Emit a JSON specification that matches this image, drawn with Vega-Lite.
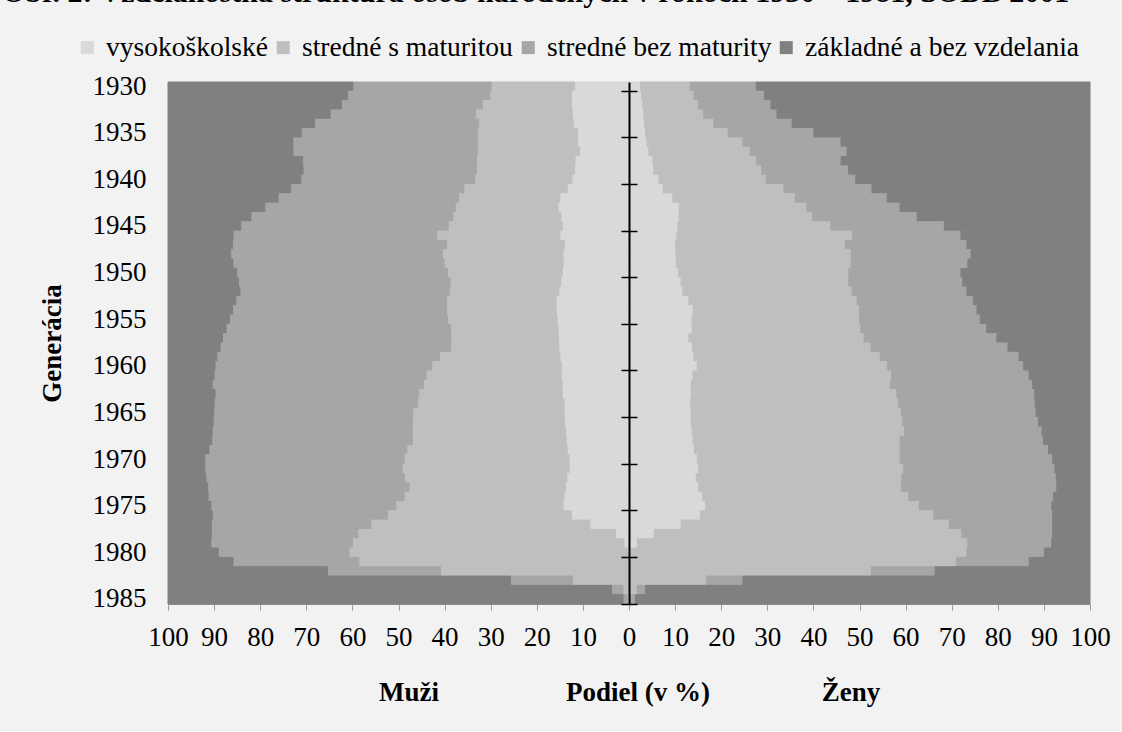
{
  "$schema": "https://vega.github.io/schema/vega-lite/v6.json",
  "background": "#f2f2f2",
  "padding": {"left": 2, "top": -23, "right": 13, "bottom": 26},
  "title": {
    "text": "Obr. 2: Vzdelanostná štruktúra osôb narodených v rokoch 1930 – 1981, SODB 2001",
    "font": "Liberation Serif",
    "fontSize": 30,
    "fontWeight": "bold",
    "color": "black",
    "anchor": "start",
    "baseline": "top",
    "dx": -36,
    "offset": 26
  },
  "datasets": {
    "muzi": [
      {"rok":1930,"vysokoškolské":11.8,"stredné s maturitou":18.1,"stredné bez maturity":30.0,"základné a bez vzdelania":40.1},
      {"rok":1931,"vysokoškolské":12.5,"stredné s maturitou":17.7,"stredné bez maturity":30.9,"základné a bez vzdelania":38.9},
      {"rok":1932,"vysokoškolské":12.5,"stredné s maturitou":19.3,"stredné bez maturity":30.6,"základné a bez vzdelania":37.6},
      {"rok":1933,"vysokoškolské":12.3,"stredné s maturitou":21.0,"stredné bez maturity":31.5,"základné a bez vzdelania":35.2},
      {"rok":1934,"vysokoškolské":12.0,"stredné s maturitou":20.6,"stredné bez maturity":35.6,"základné a bez vzdelania":31.8},
      {"rok":1935,"vysokoškolské":11.2,"stredné s maturitou":21.7,"stredné bez maturity":38.2,"základné a bez vzdelania":28.9},
      {"rok":1936,"vysokoškolské":11.2,"stredné s maturitou":21.7,"stredné bez maturity":40.0,"základné a bez vzdelania":27.1},
      {"rok":1937,"vysokoškolské":10.7,"stredné s maturitou":22.2,"stredné bez maturity":40.0,"základné a bez vzdelania":27.1},
      {"rok":1938,"vysokoškolské":11.7,"stredné s maturitou":21.4,"stredné bez maturity":37.7,"základné a bez vzdelania":29.2},
      {"rok":1939,"vysokoškolské":11.8,"stredné s maturitou":21.3,"stredné bez maturity":37.6,"základné a bez vzdelania":29.3},
      {"rok":1940,"vysokoškolské":12.4,"stredné s maturitou":21.1,"stredné bez maturity":37.7,"základné a bez vzdelania":28.8},
      {"rok":1941,"vysokoškolské":13.4,"stredné s maturitou":22.4,"stredné bez maturity":37.6,"základné a bez vzdelania":26.6},
      {"rok":1942,"vysokoškolské":15.0,"stredné s maturitou":22.0,"stredné bez maturity":39.1,"základné a bez vzdelania":23.9},
      {"rok":1943,"vysokoškolské":15.4,"stredné s maturitou":22.3,"stredné bez maturity":41.3,"základné a bez vzdelania":21.0},
      {"rok":1944,"vysokoškolské":14.8,"stredné s maturitou":23.4,"stredné bez maturity":43.8,"základné a bez vzdelania":18.0},
      {"rok":1945,"vysokoškolské":14.5,"stredné s maturitou":24.7,"stredné bez maturity":45.0,"základné a bez vzdelania":15.8},
      {"rok":1946,"vysokoškolské":15.0,"stredné s maturitou":26.7,"stredné bez maturity":44.2,"základné a bez vzdelania":14.1},
      {"rok":1947,"vysokoškolské":14.0,"stredné s maturitou":25.6,"stredné bez maturity":46.4,"základné a bez vzdelania":14.0},
      {"rok":1948,"vysokoškolské":14.3,"stredné s maturitou":26.2,"stredné bez maturity":45.9,"základné a bez vzdelania":13.6},
      {"rok":1949,"vysokoškolské":14.3,"stredné s maturitou":25.8,"stredné bez maturity":45.8,"základné a bez vzdelania":14.1},
      {"rok":1950,"vysokoškolské":14.5,"stredné s maturitou":24.9,"stredné bez maturity":45.7,"základné a bez vzdelania":14.9},
      {"rok":1951,"vysokoškolské":14.8,"stredné s maturitou":24.0,"stredné bez maturity":45.9,"základné a bez vzdelania":15.3},
      {"rok":1952,"vysokoškolské":15.2,"stredné s maturitou":23.8,"stredné bez maturity":45.4,"základné a bez vzdelania":15.6},
      {"rok":1953,"vysokoškolské":15.8,"stredné s maturitou":23.8,"stredné bez maturity":45.7,"základné a bez vzdelania":14.7},
      {"rok":1954,"vysokoškolské":15.8,"stredné s maturitou":23.8,"stredné bez maturity":46.4,"základné a bez vzdelania":14.0},
      {"rok":1955,"vysokoškolské":15.6,"stredné s maturitou":23.8,"stredné bez maturity":47.3,"základné a bez vzdelania":13.3},
      {"rok":1956,"vysokoškolské":15.4,"stredné s maturitou":23.3,"stredné bez maturity":48.7,"základné a bez vzdelania":12.6},
      {"rok":1957,"vysokoškolské":15.3,"stredné s maturitou":23.3,"stredné bez maturity":49.6,"základné a bez vzdelania":11.8},
      {"rok":1958,"vysokoškolské":15.2,"stredné s maturitou":23.5,"stredné bez maturity":50.0,"základné a bez vzdelania":11.3},
      {"rok":1959,"vysokoškolské":15.0,"stredné s maturitou":26.1,"stredné bez maturity":48.3,"základné a bez vzdelania":10.6},
      {"rok":1960,"vysokoškolské":14.7,"stredné s maturitou":28.1,"stredné bez maturity":47.0,"základné a bez vzdelania":10.2},
      {"rok":1961,"vysokoškolské":14.7,"stredné s maturitou":29.3,"stredné bez maturity":46.0,"základné a bez vzdelania":10.0},
      {"rok":1962,"vysokoškolské":14.5,"stredné s maturitou":30.1,"stredné bez maturity":45.8,"základné a bez vzdelania":9.6},
      {"rok":1963,"vysokoškolské":14.5,"stredné s maturitou":31.1,"stredné bez maturity":44.2,"základné a bez vzdelania":10.2},
      {"rok":1964,"vysokoškolské":14.1,"stredné s maturitou":31.8,"stredné bez maturity":44.1,"základné a bez vzdelania":10.0},
      {"rok":1965,"vysokoškolské":14.1,"stredné s maturitou":32.8,"stredné bez maturity":43.2,"základné a bez vzdelania":9.9},
      {"rok":1966,"vysokoškolské":14.0,"stredné s maturitou":33.0,"stredné bez maturity":43.2,"základné a bez vzdelania":9.8},
      {"rok":1967,"vysokoškolské":13.8,"stredné s maturitou":33.2,"stredné bez maturity":43.4,"základné a bez vzdelania":9.6},
      {"rok":1968,"vysokoškolské":13.6,"stredné s maturitou":33.4,"stredné bez maturity":43.5,"základné a bez vzdelania":9.5},
      {"rok":1969,"vysokoškolské":13.4,"stredné s maturitou":34.8,"stredné bez maturity":42.9,"základné a bez vzdelania":8.9},
      {"rok":1970,"vysokoškolské":13.0,"stredné s maturitou":35.8,"stredné bez maturity":43.2,"základné a bez vzdelania":8.0},
      {"rok":1971,"vysokoškolské":13.0,"stredné s maturitou":36.2,"stredné bez maturity":42.8,"základné a bez vzdelania":8.0},
      {"rok":1972,"vysokoškolské":13.5,"stredné s maturitou":35.2,"stredné bez maturity":43.1,"základné a bez vzdelania":8.2},
      {"rok":1973,"vysokoškolské":13.8,"stredné s maturitou":33.9,"stredné bez maturity":43.7,"základné a bez vzdelania":8.6},
      {"rok":1974,"vysokoškolské":14.1,"stredné s maturitou":34.7,"stredné bez maturity":42.5,"základné a bez vzdelania":8.7},
      {"rok":1975,"vysokoškolské":14.3,"stredné s maturitou":36.3,"stredné bez maturity":40.1,"základné a bez vzdelania":9.3},
      {"rok":1976,"vysokoškolské":12.5,"stredné s maturitou":39.9,"stredné bez maturity":38.0,"základné a bez vzdelania":9.6},
      {"rok":1977,"vysokoškolské":8.5,"stredné s maturitou":47.5,"stredné bez maturity":34.6,"základné a bez vzdelania":9.4},
      {"rok":1978,"vysokoškolské":2.9,"stredné s maturitou":55.9,"stredné bez maturity":31.8,"základné a bez vzdelania":9.4},
      {"rok":1979,"vysokoškolské":1.1,"stredné s maturitou":58.9,"stredné bez maturity":30.7,"základné a bez vzdelania":9.3},
      {"rok":1980,"vysokoškolské":0.3,"stredné s maturitou":60.4,"stredné bez maturity":28.4,"základné a bez vzdelania":10.9},
      {"rok":1981,"vysokoškolské":0.0,"stredné s maturitou":58.6,"stredné bez maturity":27.3,"základné a bez vzdelania":14.1},
      {"rok":1982,"vysokoškolské":0.0,"stredné s maturitou":40.9,"stredné bez maturity":24.5,"základné a bez vzdelania":34.6},
      {"rok":1983,"vysokoškolské":0.0,"stredné s maturitou":12.3,"stredné bez maturity":13.4,"základné a bez vzdelania":74.3},
      {"rok":1984,"vysokoškolské":0.0,"stredné s maturitou":1.3,"stredné bez maturity":2.5,"základné a bez vzdelania":96.2},
      {"rok":1985,"vysokoškolské":0.0,"stredné s maturitou":0.4,"stredné bez maturity":0.9,"základné a bez vzdelania":98.7}
    ],
    "zeny": [
      {"rok":1930,"vysokoškolské":2.5,"stredné s maturitou":10.8,"stredné bez maturity":14.3,"základné a bez vzdelania":72.4},
      {"rok":1931,"vysokoškolské":2.7,"stredné s maturitou":11.4,"stredné bez maturity":15.3,"základné a bez vzdelania":70.6},
      {"rok":1932,"vysokoškolské":3.0,"stredné s maturitou":12.1,"stredné bez maturity":15.7,"základné a bez vzdelania":69.2},
      {"rok":1933,"vysokoškolské":3.2,"stredné s maturitou":13.0,"stredné bez maturity":15.9,"základné a bez vzdelania":67.9},
      {"rok":1934,"vysokoškolské":3.4,"stredné s maturitou":15.0,"stredné bez maturity":17.0,"základné a bez vzdelania":64.6},
      {"rok":1935,"vysokoškolské":3.6,"stredné s maturitou":17.9,"stredné bez maturity":18.6,"základné a bez vzdelania":59.9},
      {"rok":1936,"vysokoškolské":3.9,"stredné s maturitou":20.8,"stredné bez maturity":21.3,"základné a bez vzdelania":54.0},
      {"rok":1937,"vysokoškolské":4.3,"stredné s maturitou":22.0,"stredné bez maturity":21.0,"základné a bez vzdelania":52.7},
      {"rok":1938,"vysokoškolské":5.2,"stredné s maturitou":22.4,"stredné bez maturity":18.4,"základné a bez vzdelania":54.0},
      {"rok":1939,"vysokoškolské":5.4,"stredné s maturitou":23.4,"stredné bez maturity":18.8,"základné a bez vzdelania":52.4},
      {"rok":1940,"vysokoškolské":6.5,"stredné s maturitou":23.3,"stredné bez maturity":19.4,"základné a bez vzdelania":50.8},
      {"rok":1941,"vysokoškolské":7.4,"stredné s maturitou":26.2,"stredné bez maturity":19.1,"základné a bez vzdelania":47.3},
      {"rok":1942,"vysokoškolské":9.5,"stredné s maturitou":26.6,"stredné bez maturity":19.9,"základné a bez vzdelania":44.0},
      {"rok":1943,"vysokoškolské":10.9,"stredné s maturitou":27.7,"stredné bez maturity":20.2,"základné a bez vzdelania":41.2},
      {"rok":1944,"vysokoškolské":10.9,"stredné s maturitou":28.9,"stredné bez maturity":22.7,"základné a bez vzdelania":37.5},
      {"rok":1945,"vysokoškolské":10.6,"stredné s maturitou":33.2,"stredné bez maturity":24.6,"základné a bez vzdelania":31.6},
      {"rok":1946,"vysokoškolské":10.4,"stredné s maturitou":38.1,"stredné bez maturity":23.5,"základné a bez vzdelania":28.0},
      {"rok":1947,"vysokoškolské":10.1,"stredné s maturitou":36.8,"stredné bez maturity":26.4,"základné a bez vzdelania":26.7},
      {"rok":1948,"vysokoškolské":10.2,"stredné s maturitou":38.0,"stredné bez maturity":26.0,"základné a bez vzdelania":25.8},
      {"rok":1949,"vysokoškolské":10.3,"stredné s maturitou":37.9,"stredné bez maturity":25.3,"základné a bez vzdelania":26.5},
      {"rok":1950,"vysokoškolské":10.8,"stredné s maturitou":36.9,"stredné bez maturity":24.3,"základné a bez vzdelania":28.0},
      {"rok":1951,"vysokoškolské":11.3,"stredné s maturitou":36.4,"stredné bez maturity":24.7,"základné a bez vzdelania":27.6},
      {"rok":1952,"vysokoškolské":11.7,"stredné s maturitou":36.7,"stredné bez maturity":24.9,"základné a bez vzdelania":26.7},
      {"rok":1953,"vysokoškolské":13.0,"stredné s maturitou":36.5,"stredné bez maturity":25.2,"základné a bez vzdelania":25.3},
      {"rok":1954,"vysokoškolské":13.9,"stredné s maturitou":36.1,"stredné bez maturity":25.5,"základné a bez vzdelania":24.5},
      {"rok":1955,"vysokoškolské":13.7,"stredné s maturitou":36.3,"stredné bez maturity":26.2,"základné a bez vzdelania":23.8},
      {"rok":1956,"vysokoškolské":13.7,"stredné s maturitou":36.6,"stredné bez maturity":27.3,"základné a bez vzdelania":22.4},
      {"rok":1957,"vysokoškolské":13.0,"stredné s maturitou":38.0,"stredné bez maturity":28.8,"základné a bez vzdelania":20.2},
      {"rok":1958,"vysokoškolské":13.8,"stredné s maturitou":38.7,"stredné bez maturity":29.7,"základné a bez vzdelania":17.8},
      {"rok":1959,"vysokoškolské":14.1,"stredné s maturitou":40.4,"stredné bez maturity":30.1,"základné a bez vzdelania":15.4},
      {"rok":1960,"vysokoškolské":14.8,"stredné s maturitou":41.2,"stredné bez maturity":29.6,"základné a bez vzdelania":14.4},
      {"rok":1961,"vysokoškolské":13.9,"stredné s maturitou":43.1,"stredné bez maturity":29.8,"základné a bez vzdelania":13.2},
      {"rok":1962,"vysokoškolské":13.5,"stredné s maturitou":43.2,"stredné bez maturity":30.8,"základné a bez vzdelania":12.5},
      {"rok":1963,"vysokoškolské":13.5,"stredné s maturitou":44.6,"stredné bez maturity":29.9,"základné a bez vzdelania":12.0},
      {"rok":1964,"vysokoškolské":13.3,"stredné s maturitou":45.2,"stredné bez maturity":29.6,"základné a bez vzdelania":11.9},
      {"rok":1965,"vysokoškolské":13.5,"stredné s maturitou":45.6,"stredné bez maturity":29.2,"základné a bez vzdelania":11.7},
      {"rok":1966,"vysokoškolské":13.5,"stredné s maturitou":45.9,"stredné bez maturity":29.4,"základné a bez vzdelania":11.2},
      {"rok":1967,"vysokoškolské":13.7,"stredné s maturitou":46.1,"stredné bez maturity":29.8,"základné a bez vzdelania":10.4},
      {"rok":1968,"vysokoškolské":13.9,"stredné s maturitou":44.9,"stredné bez maturity":31.1,"základné a bez vzdelania":10.1},
      {"rok":1969,"vysokoškolské":14.2,"stredné s maturitou":44.6,"stredné bez maturity":32.2,"základné a bez vzdelania":9.0},
      {"rok":1970,"vysokoškolské":14.8,"stredné s maturitou":44.0,"stredné bez maturity":33.1,"základné a bez vzdelania":8.1},
      {"rok":1971,"vysokoškolské":15.1,"stredné s maturitou":44.5,"stredné bez maturity":32.8,"základné a bez vzdelania":7.6},
      {"rok":1972,"vysokoškolské":14.6,"stredné s maturitou":44.6,"stredné bez maturity":33.5,"základné a bez vzdelania":7.3},
      {"rok":1973,"vysokoškolské":15.1,"stredné s maturitou":44.0,"stredné bez maturity":33.7,"základné a bez vzdelania":7.2},
      {"rok":1974,"vysokoškolské":16.0,"stredné s maturitou":44.7,"stredné bez maturity":31.4,"základné a bez vzdelania":7.9},
      {"rok":1975,"vysokoškolské":16.6,"stredné s maturitou":46.4,"stredné bez maturity":28.7,"základné a bez vzdelania":8.3},
      {"rok":1976,"vysokoškolské":15.5,"stredné s maturitou":50.6,"stredné bez maturity":25.8,"základné a bez vzdelania":8.1},
      {"rok":1977,"vysokoškolské":11.3,"stredné s maturitou":58.2,"stredné bez maturity":22.4,"základné a bez vzdelania":8.1},
      {"rok":1978,"vysokoškolské":5.5,"stredné s maturitou":66.7,"stredné bez maturity":19.7,"základné a bez vzdelania":8.1},
      {"rok":1979,"vysokoškolské":1.8,"stredné s maturitou":71.7,"stredné bez maturity":18.2,"základné a bez vzdelania":8.3},
      {"rok":1980,"vysokoškolské":0.5,"stredné s maturitou":72.8,"stredné bez maturity":16.8,"základné a bez vzdelania":9.9},
      {"rok":1981,"vysokoškolské":0.0,"stredné s maturitou":71.1,"stredné bez maturity":15.7,"základné a bez vzdelania":13.2},
      {"rok":1982,"vysokoškolské":0.0,"stredné s maturitou":52.6,"stredné bez maturity":13.8,"základné a bez vzdelania":33.6},
      {"rok":1983,"vysokoškolské":0.0,"stredné s maturitou":16.8,"stredné bez maturity":7.9,"základné a bez vzdelania":75.3},
      {"rok":1984,"vysokoškolské":0.0,"stredné s maturitou":1.8,"stredné bez maturity":1.8,"základné a bez vzdelania":96.4},
      {"rok":1985,"vysokoškolské":0.0,"stredné s maturitou":0.3,"stredné bez maturity":1.1,"základné a bez vzdelania":98.6}
    ]
  },
  "spacing": 0,
  "bounds": "flush",
  "hconcat": [
    {
      "width": 461,
      "height": 522,
      "data": {"name": "muzi"},
      "transform": [
        {"fold": ["vysokoškolské", "stredné s maturitou", "stredné bez maturity", "základné a bez vzdelania"], "as": ["stupeň", "podiel"]},
        {"calculate": "indexof(['vysokoškolské', 'stredné s maturitou', 'stredné bez maturity', 'základné a bez vzdelania'], datum['stupeň'])", "as": "poradie"}
      ],
      "mark": {"type": "bar", "strokeWidth": 1},
      "encoding": {
        "y": {
          "field": "rok", "type": "ordinal",
          "scale": {"paddingInner": 0, "paddingOuter": 0},
          "axis": {
            "values": [1930, 1935, 1940, 1945, 1950, 1955, 1960, 1965, 1970, 1975, 1980, 1985],
            "orient": "left", "ticks": false, "domain": false, "labelPadding": 22,
            "title": "Generácia", "titlePadding": 26
          }
        },
        "x": {
          "field": "podiel", "type": "quantitative", "stack": "zero",
          "scale": {"domain": [0, 100], "reverse": true, "nice": false},
          "axis": {
            "values": [10, 20, 30, 40, 50, 60, 70, 80, 90, 100],
            "title": "Muži", "titleX": 240.5, "titleY": 88
          }
        },
        "color": {
          "field": "stupeň", "type": "nominal",
          "scale": {
            "domain": ["vysokoškolské", "stredné s maturitou", "stredné bez maturity", "základné a bez vzdelania"],
            "range": ["#d9d9d9", "#bfbfbf", "#a6a6a6", "#808080"]
          },
          "legend": {
            "title": null, "orient": "none", "legendX": -94.5, "legendY": -48.5, "direction": "horizontal",
            "labelFont": "Liberation Serif", "labelFontSize": 27.5, "labelColor": "black",
            "symbolType": "square", "symbolSize": 169, "symbolStrokeWidth": 0,
            "labelOffset": 5, "columnPadding": 1, "labelLimit": 400, "padding": 0
          }
        },
        "stroke": {
          "field": "stupeň", "type": "nominal",
          "scale": {
            "domain": ["vysokoškolské", "stredné s maturitou", "stredné bez maturity", "základné a bez vzdelania"],
            "range": ["#d9d9d9", "#bfbfbf", "#a6a6a6", "#808080"]
          },
          "legend": null
        },
        "order": {"field": "poradie", "type": "quantitative"}
      }
    },
    {
      "width": 461,
      "height": 522,
      "data": {"name": "zeny"},
      "transform": [
        {"fold": ["vysokoškolské", "stredné s maturitou", "stredné bez maturity", "základné a bez vzdelania"], "as": ["stupeň", "podiel"]},
        {"calculate": "indexof(['vysokoškolské', 'stredné s maturitou', 'stredné bez maturity', 'základné a bez vzdelania'], datum['stupeň'])", "as": "poradie"}
      ],
      "layer": [
        {
          "mark": {"type": "bar", "strokeWidth": 1},
          "encoding": {
            "y": {
              "field": "rok", "type": "ordinal",
              "scale": {"paddingInner": 0, "paddingOuter": 0},
              "axis": {
                "values": [1930, 1935, 1940, 1945, 1950, 1955, 1960, 1965, 1970, 1975, 1980, 1985],
                "orient": "left", "bandPosition": 1, "labels": false, "ticks": true, "tickSize": 8,
                "tickColor": "black", "tickWidth": 1.5, "domain": true, "domainColor": "black",
                "domainWidth": 2, "title": null, "zindex": 2
              }
            },
            "x": {
              "field": "podiel", "type": "quantitative", "stack": "zero",
              "scale": {"domain": [0, 100], "nice": false},
              "axis": {
                "orient": "bottom",
                "values": [0, 10, 20, 30, 40, 50, 60, 70, 80, 90, 100],
                "title": "Ženy", "titleX": 221.5, "titleY": 88
              }
            },
            "color": {
              "field": "stupeň", "type": "nominal",
              "scale": {
                "domain": ["vysokoškolské", "stredné s maturitou", "stredné bez maturity", "základné a bez vzdelania"],
                "range": ["#d9d9d9", "#bfbfbf", "#a6a6a6", "#808080"]
              },
              "legend": {
                "title": null, "orient": "none", "legendX": -94.5, "legendY": -48.5, "direction": "horizontal",
                "labelFont": "Liberation Serif", "labelFontSize": 27.5, "labelColor": "black",
                "symbolType": "square", "symbolSize": 169, "symbolStrokeWidth": 0,
                "labelOffset": 5, "columnPadding": 1, "labelLimit": 400, "padding": 0
              }
            },
            "stroke": {
              "field": "stupeň", "type": "nominal",
              "scale": {
                "domain": ["vysokoškolské", "stredné s maturitou", "stredné bez maturity", "základné a bez vzdelania"],
                "range": ["#d9d9d9", "#bfbfbf", "#a6a6a6", "#808080"]
              },
              "legend": null
            },
            "order": {"field": "poradie", "type": "quantitative"}
          }
        },
        {
          "mark": {"type": "bar", "opacity": 0},
          "encoding": {
            "y": {
              "field": "rok", "type": "ordinal",
              "axis": {
                "values": [1930, 1935, 1940, 1945, 1950, 1955, 1960, 1965, 1970, 1975, 1980, 1985],
                "orient": "left", "bandPosition": 1, "labels": false, "ticks": true, "tickSize": -8,
                "tickColor": "black", "tickWidth": 1.5, "domain": false, "title": null, "zindex": 2
              }
            },
            "x": {
              "field": "podiel", "type": "quantitative", "stack": "zero",
              "axis": {
                "orient": "bottom",
                "labels": false, "ticks": false, "domain": false,
                "title": "Podiel (v %)", "titleX": 8.5, "titleY": 88
              }
            },
            "order": {"field": "poradie", "type": "quantitative"}
          }
        }
      ],
      "resolve": {"axis": {"x": "independent", "y": "independent"}}
    }
  ],
  "config": {
    "view": {"stroke": null},
    "font": "Liberation Serif",
    "axis": {
      "grid": false,
      "labelFont": "Liberation Serif",
      "labelFontSize": 27,
      "labelColor": "black",
      "titleFont": "Liberation Serif",
      "titleFontSize": 27,
      "titleFontWeight": "bold",
      "titleColor": "black",
      "labelFlush": false,
      "labelOverlap": false
    },
    "axisX": {
      "tickColor": "#999999",
      "tickSize": 6,
      "domainColor": "#999999",
      "labelPadding": 14,
      "titleBaseline": "middle",
      "titleAlign": "center"
    },
    "legend": {
      "labelFont": "Liberation Serif",
      "labelFontSize": 27.5
    }
  }
}
